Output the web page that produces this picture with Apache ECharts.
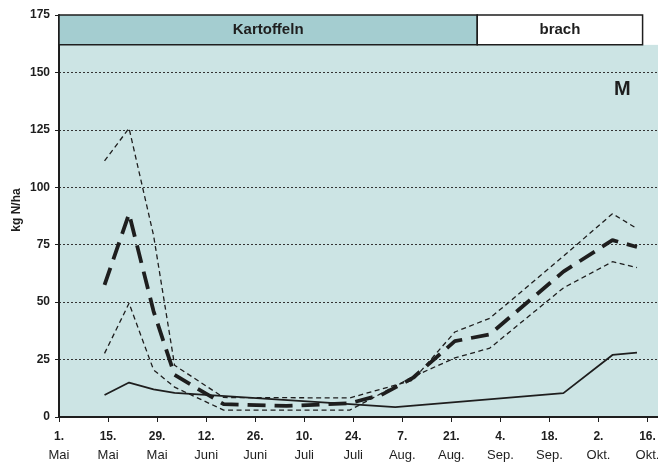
<!DOCTYPE html>
<html>
<head>
<meta charset="utf-8">
<script src="https://cdn.jsdelivr.net/npm/echarts@6/dist/echarts.min.js"></script>
<style>html,body{margin:0;padding:0;background:#fff}#c{width:658px;height:463px}</style>
</head>
<body>
<div id="c"></div>
<script>
// Days after 1 May
const tickDays = ['1.','15.','29.','12.','26.','10.','24.','7.','21.','4.','18.','2.','16.'];
const tickMonths = ['Mai','Mai','Mai','Juni','Juni','Juli','Juli','Aug.','Aug.','Sep.','Sep.','Okt.','Okt.'];
const sampleDays = [13, 20, 27, 33, 47, 65, 83, 92, 96, 101, 113, 123, 144, 158, 165];
const upperVals  = [111.5, 125.7, 79, 22.5, 8.5, null, 8.3, null, null, 16, 37, 43, 70, 88.5, 82];
const meanVals   = [57.5, 88.5, 46, 18.3, 5.6, 4.8, 6, 9.6, null, 17, 33, 36, 63.3, 77, 74];
const lowerVals  = [27.7, 49.5, 20.5, 13, 3, null, 3, null, null, 17.5, 25.7, 30, 56.2, 67.6, 65];
const solidVals  = [9.6, 15, 12, 10.5, null, null, 5.6, null, 4.3, null, null, null, 10.4, 27, 28];
const cropPeriods = [
  {name: 'Kartoffeln', from: 0, to: 119.4, color: '#a4cdd0'},
  {name: 'brach', from: 119.4, to: 166.6, color: '#ffffff'}
];

function pairs(vals) {
  const out = [];
  vals.forEach((v, i) => { if (v !== null) out.push([sampleDays[i], v]); });
  return out;
}
const FONT = 'Liberation Sans, Arial, sans-serif';
const chart = echarts.init(document.getElementById('c'));
const dark = '#1e1e1e';

chart.setOption({
  animation: false,
  textStyle: {fontFamily: FONT},
  grid: {left: 59, right: 0, top: 15, bottom: 46, show: true, backgroundColor: '#cce4e4', borderWidth: 0,
         containLabel: false, outerBoundsMode: 'none'},
  xAxis: {
    type: 'value', min: 0, max: 171, interval: 14,
    axisLine: {show: true, lineStyle: {color: dark, width: 2}},
    axisTick: {show: true, length: 5, lineStyle: {color: dark, width: 1}},
    splitLine: {show: false},
    axisLabel: {
      margin: 10, showMaxLabel: false,
      formatter: function (v) {
        const k = Math.round(v / 14);
        if (Math.abs(v - k * 14) > 0.01 || k >= tickDays.length) return '';
        return '{n|' + tickDays[k] + '}\n{m|' + tickMonths[k] + '}';
      },
      rich: {
        n: {fontFamily: FONT, fontWeight: 'bold', fontSize: 12, lineHeight: 19, color: dark},
        m: {fontFamily: FONT, fontSize: 13, lineHeight: 19, color: dark}
      }
    }
  },
  yAxis: {
    type: 'value', min: 0, max: 175, interval: 25,
    name: 'kg N/ha', nameLocation: 'middle', nameGap: 36, nameRotate: 90, nameMoveOverlap: false,
    nameTextStyle: {fontFamily: FONT, fontWeight: 'bold', fontSize: 12, color: dark, padding: [0, 0, 0, 12]},
    axisLine: {show: true, lineStyle: {color: dark, width: 2}},
    axisTick: {show: true, length: 4, lineStyle: {color: dark}},
    axisLabel: {fontFamily: FONT, fontWeight: 'bold', fontSize: 12, color: dark, margin: 9},
    splitLine: {show: true, lineStyle: {color: '#333', type: [2, 2], width: 1}}
  },
  graphic: [{
    type: 'text', left: 614, top: 79, z: 10,
    style: {text: 'M', font: 'bold 20px ' + FONT, fill: dark}
  }],
  series: [
    {
      type: 'line', data: [], z: 5, silent: true,
      markArea: {
        silent: true,
        label: {show: true, position: 'inside', fontFamily: FONT, fontWeight: 'bold', fontSize: 15, color: dark},
        data: [[
          {xAxis: 166.6, yAxis: 162, itemStyle: {color: '#ffffff', borderWidth: 0}, label: {show: false}},
          {xAxis: 171, yAxis: 175}
        ]].concat(cropPeriods.map(p => [
          {name: p.name, xAxis: p.from, yAxis: 162, itemStyle: {color: p.color, borderColor: dark, borderWidth: 1.5}},
          {xAxis: p.to, yAxis: 175}
        ]))
      }
    },
    {type: 'line', data: pairs(solidVals), showSymbol: false, connectNulls: true, z: 4,
     lineStyle: {color: dark, width: 1.8}},
    {type: 'line', data: pairs(lowerVals), showSymbol: false, connectNulls: true, z: 4,
     lineStyle: {color: dark, width: 1.3, type: [5, 3.5]}},
    {type: 'line', data: pairs(upperVals), showSymbol: false, connectNulls: true, z: 4,
     lineStyle: {color: dark, width: 1.3, type: [5, 3.5]}},
    {type: 'line', data: pairs(meanVals), showSymbol: false, connectNulls: true, z: 4,
     lineStyle: {color: dark, width: 3.8, type: [18, 9]}}
  ]
});
</script>
</body>
</html>
